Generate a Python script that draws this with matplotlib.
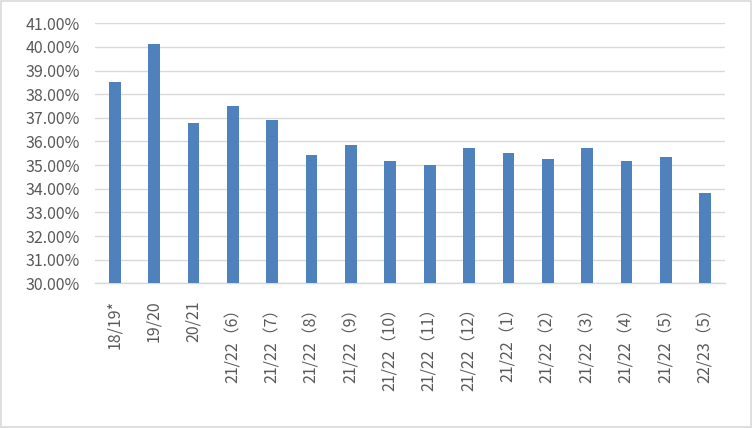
import matplotlib.pyplot as plt
from matplotlib.patches import Rectangle

plt.rcParams['font.family'] = ['Noto Sans CJK SC', 'DejaVu Sans']

# categories (full-width brackets as in the source sheet)
categories = ['18/19*', '19/20', '20/21',
              '21/22（6）', '21/22（7）', '21/22（8）', '21/22（9）',
              '21/22（10）', '21/22（11）', '21/22（12）',
              '21/22（1）', '21/22（2）', '21/22（3）', '21/22（4）',
              '21/22（5）', '22/23（5）']
# share in percent
values = [38.52, 40.12, 36.79, 37.50, 36.89, 35.42, 35.84, 35.18,
          35.01, 35.72, 35.50, 35.25, 35.72, 35.18, 35.35, 33.84]
y_ticks = [30, 31, 32, 33, 34, 35, 36, 37, 38, 39, 40, 41]

bar_color = '#4F81BD'
grid_color = '#D9D9D9'
text_color = '#595959'

fig = plt.figure(figsize=(7.53, 4.28), dpi=100)
ax = fig.add_axes([0.1262, 0.338, 0.8366, 0.6076])

x = list(range(len(categories)))
ax.bar(x, [v - 30 for v in values], bottom=30, width=0.3, color=bar_color, zorder=3)

ax.set_xlim(-0.5, len(categories) - 0.5)
ax.set_ylim(30, 41)
ax.set_yticks(y_ticks)
ax.set_yticklabels(['%.2f%%' % t for t in y_ticks])
ax.set_xticks(x)
ax.set_xticklabels(categories, rotation=90)

ax.grid(axis='y', color=grid_color, linewidth=1, zorder=0)
for s in ['left', 'right', 'top']:
    ax.spines[s].set_visible(False)
ax.spines['bottom'].set_color(grid_color)
ax.spines['bottom'].set_linewidth(1)
ax.tick_params(axis='both', length=0, labelsize=11.5, labelcolor=text_color)
ax.tick_params(axis='y', pad=11)
ax.tick_params(axis='x', pad=12)
for lbl in ax.get_xticklabels() + ax.get_yticklabels():
    lbl.set_fontweight('light')

# outer chart frame
fig.patches.append(Rectangle((0.001, 0.002), 0.997, 0.995, transform=fig.transFigure,
                             fill=False, edgecolor=grid_color, linewidth=1.2))

fig.savefig('out.png', dpi=100)
